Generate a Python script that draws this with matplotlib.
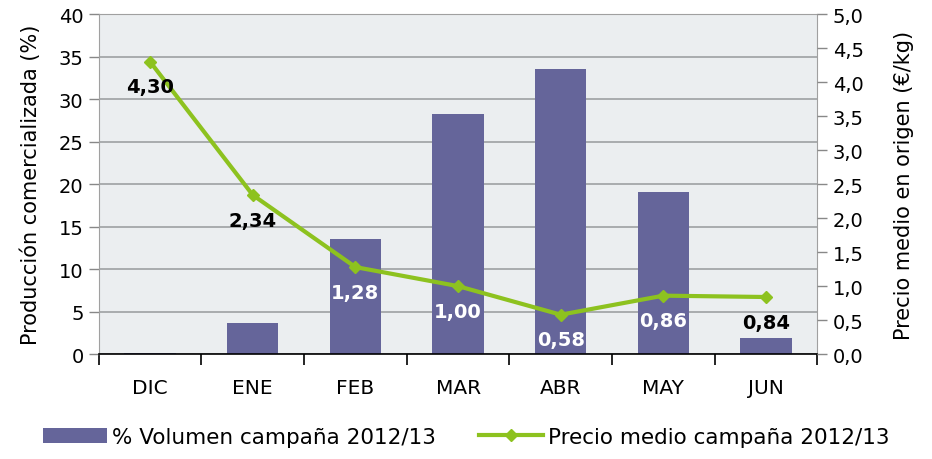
import numpy as np
import matplotlib
matplotlib.use('Agg')
import matplotlib.pyplot as plt
from matplotlib.lines import Line2D
from matplotlib.patches import Patch

# ============================================================
# DATA
# ============================================================

months = ['DIC', 'ENE', 'FEB', 'MAR', 'ABR', 'MAY', 'JUN']
volumen = [0.1, 3.7, 13.5, 28.3, 33.5, 19.1, 1.9]        # %
precio = [4.30, 2.34, 1.28, 1.00, 0.58, 0.86, 0.84]       # €/kg
label_colors = ['black', 'black', 'white', 'white', 'white', 'white', 'black']

left_ticks = list(range(0, 45, 5))
right_ticks = [0.0, 0.5, 1.0, 1.5, 2.0, 2.5, 3.0, 3.5, 4.0, 4.5, 5.0]

BAR_COLOR = '#65659a'
LINE_COLOR = '#8dc21f'
BG_COLOR = '#ebeef0'

plt.rcParams['font.family'] = ['DejaVu Sans']

# ============================================================
# FIGURE
# ============================================================

fig = plt.figure(figsize=(9.32, 4.6), dpi=100)
ax = fig.add_axes([0.106, 0.228, 0.771, 0.739])
ax.set_facecolor(BG_COLOR)

x = np.arange(len(months))
ax.bar(x, volumen, width=0.5, color=BAR_COLOR, zorder=2)

ax.set_xlim(-0.5, len(months) - 0.5)
ax.set_ylim(0, 40)
ax.set_yticks(left_ticks)
ax.set_yticklabels([str(t) for t in left_ticks], fontsize=14)
ax.yaxis.grid(True, color='#a4a6a8', linewidth=1.3, zorder=1)
ax.set_axisbelow(True)

ax.set_xticks(x)
ax.set_xticklabels(months, fontsize=14.5)
ax.tick_params(axis='x', which='major', length=0, pad=17)
ax.set_xticks(np.arange(-0.5, len(months), 1.0), minor=True)
ax.tick_params(axis='x', which='minor', length=8, width=1.2, color='black')
ax.tick_params(axis='y', length=7, width=1, color='#888888', pad=4)

ax.set_ylabel('Producción comercializada (%)', fontsize=15, labelpad=13)

for side in ['top', 'left', 'right']:
    ax.spines[side].set_color('#a0a0a0')
ax.spines['bottom'].set_color('black')
ax.spines['bottom'].set_linewidth(1.2)

# secondary axis - price
ax2 = ax.twinx()
ax2.plot(x, precio, color=LINE_COLOR, linewidth=3, marker='D',
         markersize=6, zorder=4)
ax2.set_ylim(0, 5)
ax2.set_yticks(right_ticks)
ax2.set_yticklabels([f'{t:.1f}'.replace('.', ',') for t in right_ticks],
                    fontsize=14)
ax2.tick_params(axis='y', length=7, width=1, color='#888888', pad=4)
ax2.set_ylabel('Precio medio en origen (€/kg)', fontsize=15, labelpad=22)
for side in ['top', 'left', 'right', 'bottom']:
    ax2.spines[side].set_visible(False)

for xi, p, c in zip(x, precio, label_colors):
    ax2.annotate(f'{p:.2f}'.replace('.', ','), (xi, p),
                 xytext=(0, -25), textcoords='offset pixels',
                 ha='center', va='center', fontsize=14, fontweight='bold',
                 color=c, zorder=5)

# legend
handles = [Patch(facecolor=BAR_COLOR, edgecolor='none'),
           Line2D([0], [0], color=LINE_COLOR, lw=3, marker='D', markersize=6)]
fig.legend(handles, ['% Volumen campaña 2012/13', 'Precio medio campaña 2012/13'],
           loc='center', bbox_to_anchor=(0.5, 0.048), ncol=2, frameon=False,
           fontsize=15.5, handlelength=3.0, columnspacing=2.0, handletextpad=0.2)

fig.savefig('out.png', dpi=100)
